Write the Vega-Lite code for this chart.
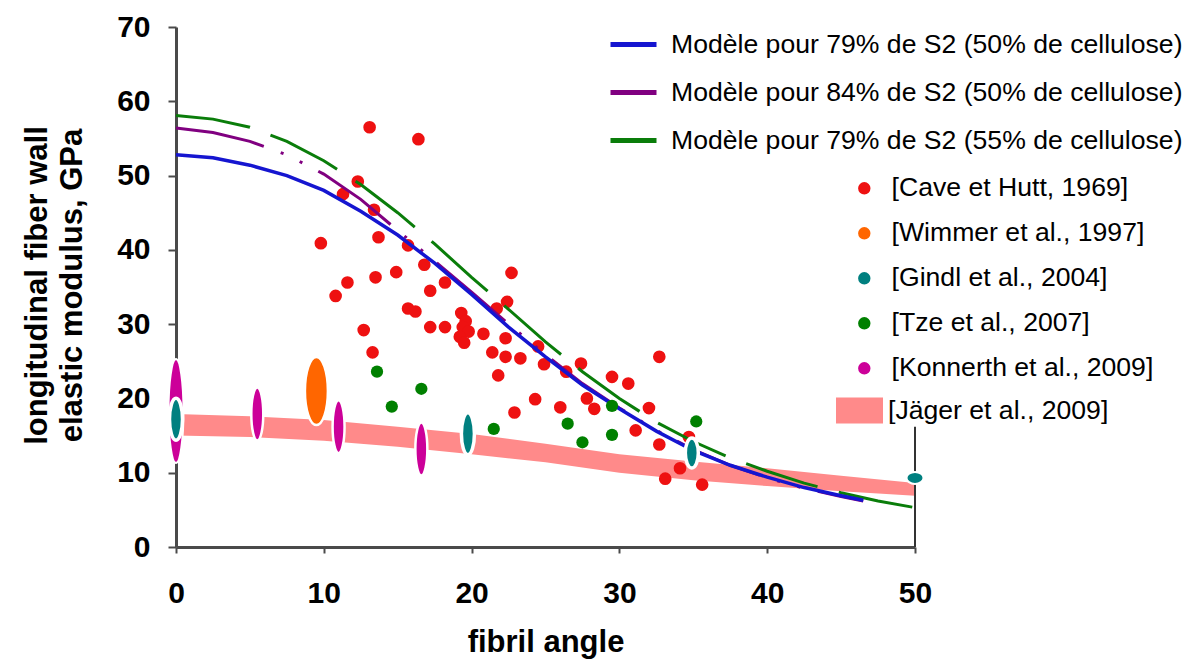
{
  "$schema": "https://vega.github.io/schema/vega-lite/v6.json",
  "width": 739,
  "height": 520,
  "autosize": {"type": "none"},
  "padding": {"left": 176, "top": 27, "right": 278, "bottom": 114},
  "background": "white",
  "config": {
    "view": {"stroke": null},
    "font": "Liberation Sans",
    "axis": {"grid": false, "labelColor": "black", "titleColor": "black", "labelFont": "Liberation Sans", "titleFont": "Liberation Sans", "labelFontWeight": "bold", "titleFontWeight": "bold", "domainColor": "#4a4a4a", "tickColor": "#4a4a4a", "domainWidth": 3, "tickWidth": 2},
    "axisX": {"labelFontSize": 30, "labelFlush": false, "tickSize": 6, "labelPadding": 25, "titleFontSize": 31, "titleX": 369.5, "titleY": 104, "titleBaseline": "alphabetic", "titleAlign": "center"},
    "axisY": {"labelFontSize": 30, "tickSize": 8, "labelPadding": 18, "titleFontSize": 31, "titleX": -139, "titleY": 258, "titleAngle": -90, "titleAlign": "center", "titleBaseline": "middle", "titleLineHeight": 35},
    "legend": {"labelFont": "Liberation Sans", "labelColor": "black", "labelFontSize": 26.6, "labelLimit": 800, "padding": 0, "direction": "vertical"}
  },
  "datasets": {
    "models": [
      {"model": "Modèle pour 79% de S2 (50% de cellulose)", "angle": 0, "E": 52.8},
      {"model": "Modèle pour 79% de S2 (50% de cellulose)", "angle": 2.5, "E": 52.4},
      {"model": "Modèle pour 79% de S2 (50% de cellulose)", "angle": 5, "E": 51.4},
      {"model": "Modèle pour 79% de S2 (50% de cellulose)", "angle": 7.5, "E": 50.0},
      {"model": "Modèle pour 79% de S2 (50% de cellulose)", "angle": 10, "E": 48.0},
      {"model": "Modèle pour 79% de S2 (50% de cellulose)", "angle": 12.5, "E": 45.2},
      {"model": "Modèle pour 79% de S2 (50% de cellulose)", "angle": 15, "E": 42.0},
      {"model": "Modèle pour 79% de S2 (50% de cellulose)", "angle": 17.5, "E": 38.2},
      {"model": "Modèle pour 79% de S2 (50% de cellulose)", "angle": 20, "E": 34.0},
      {"model": "Modèle pour 79% de S2 (50% de cellulose)", "angle": 22.5, "E": 29.6},
      {"model": "Modèle pour 79% de S2 (50% de cellulose)", "angle": 25, "E": 25.6},
      {"model": "Modèle pour 79% de S2 (50% de cellulose)", "angle": 27.5, "E": 21.8},
      {"model": "Modèle pour 79% de S2 (50% de cellulose)", "angle": 30, "E": 18.6},
      {"model": "Modèle pour 79% de S2 (50% de cellulose)", "angle": 32.5, "E": 15.6},
      {"model": "Modèle pour 79% de S2 (50% de cellulose)", "angle": 35, "E": 13.0},
      {"model": "Modèle pour 79% de S2 (50% de cellulose)", "angle": 37.5, "E": 11.0},
      {"model": "Modèle pour 79% de S2 (50% de cellulose)", "angle": 40, "E": 9.4},
      {"model": "Modèle pour 79% de S2 (50% de cellulose)", "angle": 42.5, "E": 8.0},
      {"model": "Modèle pour 79% de S2 (50% de cellulose)", "angle": 45, "E": 6.9},
      {"model": "Modèle pour 79% de S2 (50% de cellulose)", "angle": 46.5, "E": 6.3},
      {"model": "Modèle pour 84% de S2 (50% de cellulose)", "angle": 0, "E": 56.4},
      {"model": "Modèle pour 84% de S2 (50% de cellulose)", "angle": 2.5, "E": 55.8},
      {"model": "Modèle pour 84% de S2 (50% de cellulose)", "angle": 5, "E": 54.6},
      {"model": "Modèle pour 84% de S2 (50% de cellulose)", "angle": 7.5, "E": 52.8},
      {"model": "Modèle pour 84% de S2 (50% de cellulose)", "angle": 10, "E": 50.2},
      {"model": "Modèle pour 84% de S2 (50% de cellulose)", "angle": 12.5, "E": 46.8},
      {"model": "Modèle pour 84% de S2 (50% de cellulose)", "angle": 15, "E": 42.6},
      {"model": "Modèle pour 84% de S2 (50% de cellulose)", "angle": 17.5, "E": 38.5},
      {"model": "Modèle pour 84% de S2 (50% de cellulose)", "angle": 20, "E": 34.3},
      {"model": "Modèle pour 84% de S2 (50% de cellulose)", "angle": 22.5, "E": 30.0},
      {"model": "Modèle pour 84% de S2 (50% de cellulose)", "angle": 25, "E": 25.9},
      {"model": "Modèle pour 84% de S2 (50% de cellulose)", "angle": 27.5, "E": 22.0},
      {"model": "Modèle pour 84% de S2 (50% de cellulose)", "angle": 30, "E": 18.7},
      {"model": "Modèle pour 84% de S2 (50% de cellulose)", "angle": 32.5, "E": 15.7},
      {"model": "Modèle pour 84% de S2 (50% de cellulose)", "angle": 35, "E": 13.1},
      {"model": "Modèle pour 84% de S2 (50% de cellulose)", "angle": 37.5, "E": 11.0},
      {"model": "Modèle pour 84% de S2 (50% de cellulose)", "angle": 40, "E": 9.3},
      {"model": "Modèle pour 84% de S2 (50% de cellulose)", "angle": 42.5, "E": 7.9},
      {"model": "Modèle pour 84% de S2 (50% de cellulose)", "angle": 45, "E": 6.8},
      {"model": "Modèle pour 84% de S2 (50% de cellulose)", "angle": 46.5, "E": 6.2},
      {"model": "Modèle pour 79% de S2 (55% de cellulose)", "angle": 0, "E": 58.1},
      {"model": "Modèle pour 79% de S2 (55% de cellulose)", "angle": 2.5, "E": 57.6},
      {"model": "Modèle pour 79% de S2 (55% de cellulose)", "angle": 5, "E": 56.5},
      {"model": "Modèle pour 79% de S2 (55% de cellulose)", "angle": 7.5, "E": 54.6},
      {"model": "Modèle pour 79% de S2 (55% de cellulose)", "angle": 10, "E": 52.0},
      {"model": "Modèle pour 79% de S2 (55% de cellulose)", "angle": 12.5, "E": 48.8},
      {"model": "Modèle pour 79% de S2 (55% de cellulose)", "angle": 15, "E": 45.0},
      {"model": "Modèle pour 79% de S2 (55% de cellulose)", "angle": 17.5, "E": 40.8},
      {"model": "Modèle pour 79% de S2 (55% de cellulose)", "angle": 20, "E": 36.3},
      {"model": "Modèle pour 79% de S2 (55% de cellulose)", "angle": 22.5, "E": 32.0},
      {"model": "Modèle pour 79% de S2 (55% de cellulose)", "angle": 25, "E": 27.6},
      {"model": "Modèle pour 79% de S2 (55% de cellulose)", "angle": 27.5, "E": 23.6},
      {"model": "Modèle pour 79% de S2 (55% de cellulose)", "angle": 30, "E": 20.0},
      {"model": "Modèle pour 79% de S2 (55% de cellulose)", "angle": 32.5, "E": 16.8},
      {"model": "Modèle pour 79% de S2 (55% de cellulose)", "angle": 35, "E": 14.2},
      {"model": "Modèle pour 79% de S2 (55% de cellulose)", "angle": 37.5, "E": 12.0},
      {"model": "Modèle pour 79% de S2 (55% de cellulose)", "angle": 40, "E": 10.2},
      {"model": "Modèle pour 79% de S2 (55% de cellulose)", "angle": 42.5, "E": 8.6},
      {"model": "Modèle pour 79% de S2 (55% de cellulose)", "angle": 45, "E": 7.3},
      {"model": "Modèle pour 79% de S2 (55% de cellulose)", "angle": 47.5, "E": 6.2},
      {"model": "Modèle pour 79% de S2 (55% de cellulose)", "angle": 50, "E": 5.3}
    ],
    "band": [
      {"source": "[Jäger et al., 2009]", "angle": 0, "E": 15.0, "E2": 17.9},
      {"source": "[Jäger et al., 2009]", "angle": 5, "E": 14.8, "E2": 17.6},
      {"source": "[Jäger et al., 2009]", "angle": 10, "E": 14.3, "E2": 17.1},
      {"source": "[Jäger et al., 2009]", "angle": 15, "E": 13.5, "E2": 16.2},
      {"source": "[Jäger et al., 2009]", "angle": 20, "E": 12.5, "E2": 15.2},
      {"source": "[Jäger et al., 2009]", "angle": 25, "E": 11.4, "E2": 13.9},
      {"source": "[Jäger et al., 2009]", "angle": 30, "E": 10.0, "E2": 12.5},
      {"source": "[Jäger et al., 2009]", "angle": 35, "E": 9.0, "E2": 11.5},
      {"source": "[Jäger et al., 2009]", "angle": 40, "E": 8.2, "E2": 10.6},
      {"source": "[Jäger et al., 2009]", "angle": 45, "E": 7.5, "E2": 9.6},
      {"source": "[Jäger et al., 2009]", "angle": 50, "E": 6.9, "E2": 8.6}
    ],
    "frame": [
      {"angle": 50, "E": 0, "E2": 16.2}
    ],
    "points": [
      {"source": "[Cave et Hutt, 1969]", "angle": 13.1, "E": 56.5},
      {"source": "[Cave et Hutt, 1969]", "angle": 16.4, "E": 54.9},
      {"source": "[Cave et Hutt, 1969]", "angle": 11.3, "E": 47.5},
      {"source": "[Cave et Hutt, 1969]", "angle": 12.3, "E": 49.2},
      {"source": "[Cave et Hutt, 1969]", "angle": 13.4, "E": 45.4},
      {"source": "[Cave et Hutt, 1969]", "angle": 13.7, "E": 41.7},
      {"source": "[Cave et Hutt, 1969]", "angle": 9.8, "E": 40.9},
      {"source": "[Cave et Hutt, 1969]", "angle": 15.7, "E": 40.6},
      {"source": "[Cave et Hutt, 1969]", "angle": 16.8, "E": 38.0},
      {"source": "[Cave et Hutt, 1969]", "angle": 18.2, "E": 35.6},
      {"source": "[Cave et Hutt, 1969]", "angle": 17.2, "E": 34.5},
      {"source": "[Cave et Hutt, 1969]", "angle": 11.6, "E": 35.6},
      {"source": "[Cave et Hutt, 1969]", "angle": 13.5, "E": 36.3},
      {"source": "[Cave et Hutt, 1969]", "angle": 14.9, "E": 37.0},
      {"source": "[Cave et Hutt, 1969]", "angle": 10.8, "E": 33.8},
      {"source": "[Cave et Hutt, 1969]", "angle": 15.7, "E": 32.1},
      {"source": "[Cave et Hutt, 1969]", "angle": 16.2, "E": 31.7},
      {"source": "[Cave et Hutt, 1969]", "angle": 12.7, "E": 29.2},
      {"source": "[Cave et Hutt, 1969]", "angle": 17.2, "E": 29.6},
      {"source": "[Cave et Hutt, 1969]", "angle": 18.2, "E": 29.6},
      {"source": "[Cave et Hutt, 1969]", "angle": 19.3, "E": 31.5},
      {"source": "[Cave et Hutt, 1969]", "angle": 19.6, "E": 30.4},
      {"source": "[Cave et Hutt, 1969]", "angle": 19.4, "E": 29.6},
      {"source": "[Cave et Hutt, 1969]", "angle": 19.8, "E": 29.0},
      {"source": "[Cave et Hutt, 1969]", "angle": 19.2, "E": 28.3},
      {"source": "[Cave et Hutt, 1969]", "angle": 19.5, "E": 27.5},
      {"source": "[Cave et Hutt, 1969]", "angle": 20.8, "E": 28.7},
      {"source": "[Cave et Hutt, 1969]", "angle": 21.7, "E": 32.1},
      {"source": "[Cave et Hutt, 1969]", "angle": 22.7, "E": 36.9},
      {"source": "[Cave et Hutt, 1969]", "angle": 22.4, "E": 33.0},
      {"source": "[Cave et Hutt, 1969]", "angle": 22.3, "E": 28.1},
      {"source": "[Cave et Hutt, 1969]", "angle": 21.4, "E": 26.2},
      {"source": "[Cave et Hutt, 1969]", "angle": 22.3, "E": 25.6},
      {"source": "[Cave et Hutt, 1969]", "angle": 23.3, "E": 25.4},
      {"source": "[Cave et Hutt, 1969]", "angle": 24.5, "E": 27.0},
      {"source": "[Cave et Hutt, 1969]", "angle": 24.9, "E": 24.6},
      {"source": "[Cave et Hutt, 1969]", "angle": 21.8, "E": 23.1},
      {"source": "[Cave et Hutt, 1969]", "angle": 24.3, "E": 19.9},
      {"source": "[Cave et Hutt, 1969]", "angle": 26.0, "E": 18.8},
      {"source": "[Cave et Hutt, 1969]", "angle": 22.9, "E": 18.1},
      {"source": "[Cave et Hutt, 1969]", "angle": 13.3, "E": 26.2},
      {"source": "[Cave et Hutt, 1969]", "angle": 27.4, "E": 24.7},
      {"source": "[Cave et Hutt, 1969]", "angle": 26.4, "E": 23.6},
      {"source": "[Cave et Hutt, 1969]", "angle": 32.7, "E": 25.6},
      {"source": "[Cave et Hutt, 1969]", "angle": 29.5, "E": 22.9},
      {"source": "[Cave et Hutt, 1969]", "angle": 30.6, "E": 22.0},
      {"source": "[Cave et Hutt, 1969]", "angle": 27.8, "E": 20.0},
      {"source": "[Cave et Hutt, 1969]", "angle": 28.3, "E": 18.6},
      {"source": "[Cave et Hutt, 1969]", "angle": 32.0, "E": 18.7},
      {"source": "[Cave et Hutt, 1969]", "angle": 31.1, "E": 15.7},
      {"source": "[Cave et Hutt, 1969]", "angle": 32.7, "E": 13.8},
      {"source": "[Cave et Hutt, 1969]", "angle": 34.7, "E": 14.8},
      {"source": "[Cave et Hutt, 1969]", "angle": 34.1, "E": 10.6},
      {"source": "[Cave et Hutt, 1969]", "angle": 33.1, "E": 9.2},
      {"source": "[Cave et Hutt, 1969]", "angle": 35.6, "E": 8.4},
      {"source": "[Tze et al., 2007]", "angle": 13.6, "E": 23.6},
      {"source": "[Tze et al., 2007]", "angle": 14.6, "E": 18.9},
      {"source": "[Tze et al., 2007]", "angle": 16.6, "E": 21.3},
      {"source": "[Tze et al., 2007]", "angle": 21.5, "E": 15.9},
      {"source": "[Tze et al., 2007]", "angle": 26.5, "E": 16.6},
      {"source": "[Tze et al., 2007]", "angle": 27.5, "E": 14.1},
      {"source": "[Tze et al., 2007]", "angle": 29.5, "E": 19.0},
      {"source": "[Tze et al., 2007]", "angle": 29.5, "E": 15.1},
      {"source": "[Tze et al., 2007]", "angle": 35.2, "E": 16.9},
      {"source": "[Wimmer et al., 1997]", "angle": 9.5, "E": 21.0},
      {"source": "[Konnerth et al., 2009]", "angle": 0, "E": 18.3},
      {"source": "[Konnerth et al., 2009]", "angle": 5.5, "E": 17.9},
      {"source": "[Konnerth et al., 2009]", "angle": 11.0, "E": 16.2},
      {"source": "[Konnerth et al., 2009]", "angle": 16.6, "E": 13.2},
      {"source": "[Gindl et al., 2004]", "angle": 0, "E": 17.2},
      {"source": "[Gindl et al., 2004]", "angle": 19.75, "E": 15.25},
      {"source": "[Gindl et al., 2004]", "angle": 34.9, "E": 12.65},
      {"source": "[Gindl et al., 2004]", "angle": 50, "E": 9.3}
    ]
  },
  "encoding": {
    "x": {"field": "angle", "type": "quantitative", "title": "fibril angle", "scale": {"domain": [0, 50], "nice": false}, "axis": {"values": [0, 10, 20, 30, 40, 50]}},
    "y": {"field": "E", "type": "quantitative", "title": ["longitudinal fiber wall", "elastic modulus, GPa"], "scale": {"domain": [0, 70], "nice": false}, "axis": {"values": [0, 10, 20, 30, 40, 50, 60, 70]}}
  },
  "layer": [
    {
      "data": {"name": "band"},
      "mark": {"type": "area", "opacity": 1},
      "encoding": {
        "y2": {"field": "E2"},
        "fill": {"field": "source", "type": "nominal", "scale": {"range": ["#ff8a8a"]},
          "legend": {"title": null, "orient": "none", "legendX": 660, "legendY": 360, "symbolType": "M-1,-0.553H1V0.553H-1Z", "symbolSize": 2209, "symbolStrokeWidth": 0, "symbolOpacity": 1, "labelOffset": 5}}
      }
    },
    {
      "layer": [
        {
          "data": {"name": "frame"},
          "mark": {"type": "rule", "color": "#333333", "strokeWidth": 2},
          "encoding": {"y2": {"field": "E2"}}
        },
        {
          "data": {"name": "points"},
          "transform": [{"filter": "datum.source == '[Cave et Hutt, 1969]'"}],
          "mark": {"type": "point", "filled": true, "size": 160, "opacity": 1},
          "encoding": {
            "fill": {"field": "source", "type": "nominal",
              "scale": {"domain": ["[Cave et Hutt, 1969]", "[Wimmer et al., 1997]", "[Gindl et al., 2004]", "[Tze et al., 2007]", "[Konnerth et al., 2009]"], "range": ["#ee1111", "#ff6600", "#008080", "#008000", "#cc0099"]},
              "legend": {"title": null, "orient": "none", "legendX": 675, "legendY": 148, "symbolType": "circle", "symbolSize": 154, "symbolStrokeWidth": 0, "symbolOpacity": 1, "labelOffset": 14, "rowPadding": 18}}
          }
        },
        {
          "data": {"name": "models"},
          "transform": [{"filter": "datum.model == 'Modèle pour 79% de S2 (55% de cellulose)'"}],
          "mark": {"type": "line", "strokeWidth": 3, "strokeDash": [75, 22]},
          "encoding": {
            "stroke": {"field": "model", "type": "nominal",
              "scale": {"domain": ["Modèle pour 79% de S2 (50% de cellulose)", "Modèle pour 84% de S2 (50% de cellulose)", "Modèle pour 79% de S2 (55% de cellulose)"], "range": ["#1515d0", "#800080", "#0a7d0a"]},
              "legend": {"title": null, "orient": "none", "legendX": 432, "legendY": -8, "symbolType": "stroke", "symbolSize": 2116, "symbolStrokeWidth": 5, "symbolDash": [], "labelOffset": 12, "rowPadding": 8}}
          }
        },
        {
          "data": {"name": "models"},
          "transform": [{"filter": "datum.model == 'Modèle pour 84% de S2 (50% de cellulose)'"}],
          "mark": {"type": "line", "strokeWidth": 3, "strokeDash": [90, 18, 3, 18, 3, 18]},
          "encoding": {
            "stroke": {"field": "model", "type": "nominal",
              "scale": {"domain": ["Modèle pour 79% de S2 (50% de cellulose)", "Modèle pour 84% de S2 (50% de cellulose)", "Modèle pour 79% de S2 (55% de cellulose)"], "range": ["#1515d0", "#800080", "#0a7d0a"]}}
          }
        },
        {
          "data": {"name": "models"},
          "transform": [{"filter": "datum.model == 'Modèle pour 79% de S2 (50% de cellulose)'"}],
          "mark": {"type": "line", "strokeWidth": 3.5},
          "encoding": {
            "stroke": {"field": "model", "type": "nominal",
              "scale": {"domain": ["Modèle pour 79% de S2 (50% de cellulose)", "Modèle pour 84% de S2 (50% de cellulose)", "Modèle pour 79% de S2 (55% de cellulose)"], "range": ["#1515d0", "#800080", "#0a7d0a"]}}
          }
        },
        {
          "data": {"name": "points"},
          "transform": [{"filter": "datum.source == '[Tze et al., 2007]'"}],
          "mark": {"type": "point", "filled": true, "size": 150, "opacity": 1},
          "encoding": {"fill": {"field": "source", "type": "nominal",
            "scale": {"domain": ["[Cave et Hutt, 1969]", "[Wimmer et al., 1997]", "[Gindl et al., 2004]", "[Tze et al., 2007]", "[Konnerth et al., 2009]"], "range": ["#ee1111", "#ff6600", "#008080", "#008000", "#cc0099"]}}}
        },
        {
          "data": {"name": "points"},
          "transform": [{"filter": "datum.source == '[Wimmer et al., 1997]'"}],
          "mark": {"type": "point", "filled": true, "opacity": 1, "shape": "M0,-1A0.338,1 0 1,1 0,1A0.338,1 0 1,1 0,-1Z", "size": 4624, "stroke": "white", "strokeWidth": 2.5, "strokeOpacity": 1},
          "encoding": {"fill": {"field": "source", "type": "nominal",
            "scale": {"domain": ["[Cave et Hutt, 1969]", "[Wimmer et al., 1997]", "[Gindl et al., 2004]", "[Tze et al., 2007]", "[Konnerth et al., 2009]"], "range": ["#ee1111", "#ff6600", "#008080", "#008000", "#cc0099"]}}}
        },
        {
          "data": {"name": "points"},
          "transform": [{"filter": "datum.source == '[Konnerth et al., 2009]' && datum.angle == 0"}],
          "mark": {"type": "point", "filled": true, "opacity": 1, "shape": "M0,-1A0.144,1 0 1,1 0,1A0.144,1 0 1,1 0,-1Z", "size": 10816, "stroke": "white", "strokeWidth": 2, "strokeOpacity": 1},
          "encoding": {"fill": {"field": "source", "type": "nominal",
            "scale": {"domain": ["[Cave et Hutt, 1969]", "[Wimmer et al., 1997]", "[Gindl et al., 2004]", "[Tze et al., 2007]", "[Konnerth et al., 2009]"], "range": ["#ee1111", "#ff6600", "#008080", "#008000", "#cc0099"]}}}
        },
        {
          "data": {"name": "points"},
          "transform": [{"filter": "datum.source == '[Konnerth et al., 2009]' && datum.angle > 0"}],
          "mark": {"type": "point", "filled": true, "opacity": 1, "shape": "M0,-1A0.226,1 0 1,1 0,1A0.226,1 0 1,1 0,-1Z", "size": 2809, "stroke": "white", "strokeWidth": 2.5, "strokeOpacity": 1},
          "encoding": {"fill": {"field": "source", "type": "nominal",
            "scale": {"domain": ["[Cave et Hutt, 1969]", "[Wimmer et al., 1997]", "[Gindl et al., 2004]", "[Tze et al., 2007]", "[Konnerth et al., 2009]"], "range": ["#ee1111", "#ff6600", "#008080", "#008000", "#cc0099"]}}}
        },
        {
          "data": {"name": "points"},
          "transform": [{"filter": "datum.source == '[Gindl et al., 2004]' && datum.angle < 30"}],
          "mark": {"type": "point", "filled": true, "opacity": 1, "shape": "M0,-1A0.31,1 0 1,1 0,1A0.31,1 0 1,1 0,-1Z", "size": 1764, "stroke": "white", "strokeWidth": 3.5, "strokeOpacity": 1},
          "encoding": {"fill": {"field": "source", "type": "nominal",
            "scale": {"domain": ["[Cave et Hutt, 1969]", "[Wimmer et al., 1997]", "[Gindl et al., 2004]", "[Tze et al., 2007]", "[Konnerth et al., 2009]"], "range": ["#ee1111", "#ff6600", "#008080", "#008000", "#cc0099"]}}}
        },
        {
          "data": {"name": "points"},
          "transform": [{"filter": "datum.source == '[Gindl et al., 2004]' && datum.angle > 30 && datum.angle < 40"}],
          "mark": {"type": "point", "filled": true, "opacity": 1, "shape": "M0,-1A0.433,1 0 1,1 0,1A0.433,1 0 1,1 0,-1Z", "size": 900, "stroke": "white", "strokeWidth": 3.5, "strokeOpacity": 1},
          "encoding": {"fill": {"field": "source", "type": "nominal",
            "scale": {"domain": ["[Cave et Hutt, 1969]", "[Wimmer et al., 1997]", "[Gindl et al., 2004]", "[Tze et al., 2007]", "[Konnerth et al., 2009]"], "range": ["#ee1111", "#ff6600", "#008080", "#008000", "#cc0099"]}}}
        },
        {
          "data": {"name": "points"},
          "transform": [{"filter": "datum.source == '[Gindl et al., 2004]' && datum.angle > 45"}],
          "mark": {"type": "point", "filled": true, "opacity": 1, "shape": "M-1,0A1,0.706 0 1,1 1,0A1,0.706 0 1,1 -1,0Z", "size": 289, "stroke": "white", "strokeWidth": 2, "strokeOpacity": 1},
          "encoding": {"fill": {"field": "source", "type": "nominal",
            "scale": {"domain": ["[Cave et Hutt, 1969]", "[Wimmer et al., 1997]", "[Gindl et al., 2004]", "[Tze et al., 2007]", "[Konnerth et al., 2009]"], "range": ["#ee1111", "#ff6600", "#008080", "#008000", "#cc0099"]}}}
        }
      ]
    }
  ],
  "resolve": {"scale": {"fill": "independent"}}
}
